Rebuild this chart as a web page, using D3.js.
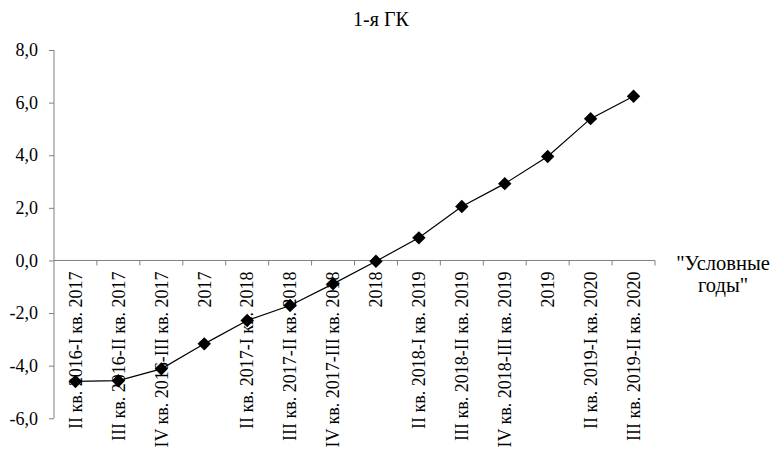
<!DOCTYPE html>
<html><head><meta charset="utf-8">
<script src="https://cdn.jsdelivr.net/npm/d3@7"></script>
<style>body{margin:0;background:#fff}svg{display:block}</style>
</head><body>
<script>
const categories = ["II кв. 2016-I кв. 2017","III кв. 2016-II кв. 2017","IV кв. 2016-III кв. 2017","2017","II кв. 2017-I кв. 2018","III кв. 2017-II кв. 2018","IV кв. 2017-III кв. 2018","2018","II кв. 2018-I кв. 2019","III кв. 2018-II кв. 2019","IV кв. 2018-III кв. 2019","2019","II кв. 2019-I кв. 2020","III кв. 2019-II кв. 2020"];
const values = [-4.6,-4.57,-4.12,-3.17,-2.28,-1.71,-0.89,-0.03,0.86,2.05,2.92,3.95,5.39,6.24];
const yTicks = [-6,-4,-2,0,2,4,6,8];
const title = "1-я ГК";
const axisTitle = ["\"Условные","годы\""];

const FF = "'Liberation Serif', 'Times New Roman', serif";
const W=777,H=454;
const svg=d3.select("body").append("svg").attr("width",W).attr("height",H);
const x=d3.scaleBand().domain(categories).range([54,655]);
const y=d3.scaleLinear().domain([-6,8]).range([418.3,50]);
const fmt=v=>v.toFixed(1).replace(".",",");

svg.append("text").attr("x",381).attr("y",26).attr("text-anchor","middle").style("font-family",FF).style("font-size","20px").text(title);

// y axis
const ya=svg.append("g").attr("transform","translate(54,0)").call(d3.axisLeft(y).tickValues(yTicks).tickSize(5).tickPadding(11).tickFormat(fmt));
ya.attr("font-family",null).attr("font-size",null);
ya.select(".domain").attr("stroke","#808080").attr("d",`M0,${y(-6)}V${y(8)}`);
ya.selectAll(".tick line").attr("stroke","#808080");
ya.selectAll(".tick text").style("font-family",FF).style("font-size","18px").attr("fill","#000");

// x axis at zero
const xa=svg.append("g").attr("transform",`translate(0,${y(0)})`);
xa.append("line").attr("x1",54).attr("x2",655).attr("stroke","#808080");
const bounds=categories.map(c=>x(c)).concat([x(categories[categories.length-1])+x.bandwidth()]);
xa.selectAll(".xt").data(bounds.slice(1)).join("line").attr("x1",d=>d).attr("x2",d=>d).attr("y1",0).attr("y2",5).attr("stroke","#808080");
xa.selectAll(".xl").data(categories).join("text")
  .attr("transform",d=>`translate(${x(d)+x.bandwidth()/2},11) rotate(-90)`)
  .attr("text-anchor","end").attr("dy","0.35em").style("font-family",FF).style("font-size","18px").text(d=>d);

// axis title
svg.selectAll(".at").data(axisTitle).join("text").attr("x",723).attr("y",(d,i)=>270+i*22).attr("text-anchor","middle").style("font-family",FF).style("font-size","20.5px").text(d=>d);

// line
const cx=(d,i)=>x(categories[i])+x.bandwidth()/2;
svg.append("path").datum(values).attr("fill","none").attr("stroke","#000").attr("stroke-width",1.2)
  .attr("d",d3.line().x(cx).y(d=>y(d)));
svg.selectAll(".m").data(values).join("path")
  .attr("d",d3.symbol(d3.symbolSquare,90)())
  .attr("transform",(d,i)=>`translate(${cx(d,i)},${y(d)}) rotate(45)`).attr("fill","#000");
</script>
</body></html>
